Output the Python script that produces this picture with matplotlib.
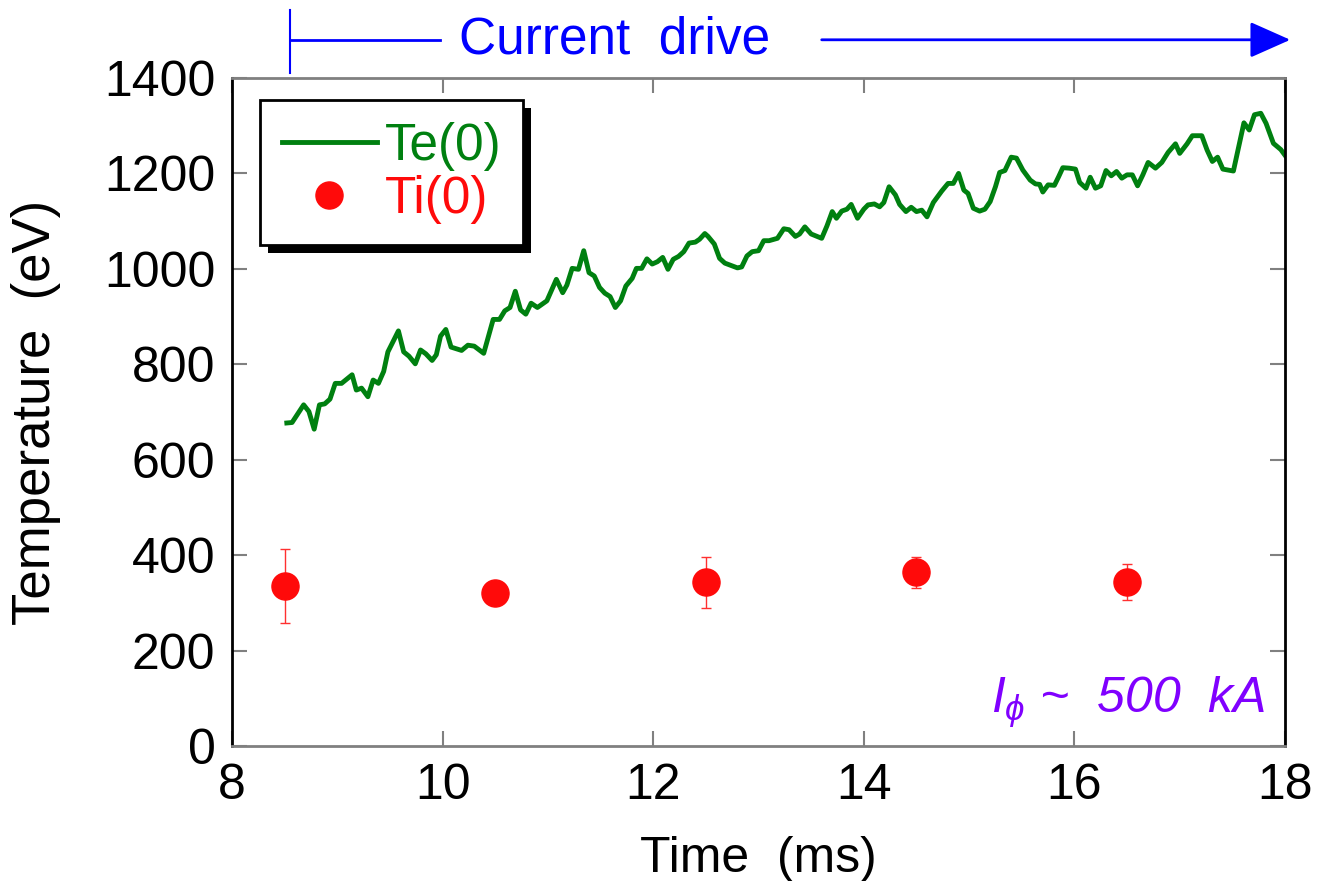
import numpy as np
import matplotlib.pyplot as plt
from matplotlib.patches import Rectangle
from matplotlib.transforms import IdentityTransform

plt.rcParams['font.family'] = ['Liberation Sans', 'DejaVu Sans']
plt.rcParams['mathtext.fontset'] = 'custom'
plt.rcParams['mathtext.it'] = 'Liberation Sans:italic'

# electron temperature trace Te(0)
te_time = [8.52, 8.57, 8.68, 8.73, 8.78, 8.83, 8.88, 8.93, 8.98, 9.04,
           9.14, 9.18, 9.23, 9.29, 9.34, 9.39, 9.44, 9.48, 9.58, 9.63,
           9.68, 9.74, 9.79, 9.84, 9.90, 9.94, 9.98, 10.03, 10.08, 10.18,
           10.24, 10.30, 10.39, 10.48, 10.54, 10.59, 10.64, 10.69, 10.74, 10.79,
           10.84, 10.90, 10.99, 11.08, 11.14, 11.18, 11.23, 11.29, 11.34, 11.39,
           11.44, 11.49, 11.54, 11.59, 11.64, 11.69, 11.74, 11.80, 11.84, 11.89,
           11.94, 11.99, 12.04, 12.09, 12.14, 12.19, 12.24, 12.29, 12.34, 12.40,
           12.44, 12.49, 12.52, 12.58, 12.63, 12.68, 12.74, 12.80, 12.84, 12.89,
           12.94, 13.00, 13.05, 13.10, 13.18, 13.24, 13.29, 13.35, 13.39, 13.44,
           13.50, 13.60, 13.65, 13.70, 13.74, 13.79, 13.84, 13.88, 13.94, 14.00,
           14.04, 14.10, 14.15, 14.19, 14.24, 14.30, 14.34, 14.40, 14.45, 14.50,
           14.55, 14.60, 14.66, 14.74, 14.80, 14.85, 14.90, 14.95, 14.99, 15.04,
           15.10, 15.15, 15.20, 15.25, 15.29, 15.34, 15.40, 15.45, 15.51, 15.58,
           15.63, 15.67, 15.70, 15.75, 15.81, 15.85, 15.89, 15.95, 16.01, 16.05,
           16.11, 16.15, 16.20, 16.25, 16.30, 16.35, 16.40, 16.45, 16.50, 16.55,
           16.60, 16.65, 16.70, 16.77, 16.83, 16.89, 16.96, 17.00, 17.07, 17.12,
           17.21, 17.26, 17.31, 17.36, 17.41, 17.51, 17.56, 17.61, 17.66, 17.71,
           17.77, 17.82, 17.89, 17.96, 18.00]
te_vals = [677, 678, 715, 701, 664, 715, 717, 727, 760, 760,
           778, 746, 750, 732, 767, 760, 785, 826, 870, 826,
           817, 801, 830, 822, 808, 820, 859, 873, 836, 829,
           840, 838, 823, 894, 894, 912, 919, 953, 914, 905,
           928, 919, 933, 978, 950, 966, 1001, 999, 1038, 992,
           985, 961, 949, 942, 919, 933, 964, 980, 1001, 1001,
           1021, 1010, 1015, 1024, 999, 1020, 1026, 1036, 1054, 1056,
           1062, 1074, 1068, 1052, 1022, 1012, 1007, 1002, 1004, 1027,
           1036, 1038, 1059, 1059, 1064, 1084, 1082, 1068, 1073, 1088,
           1073, 1064, 1090, 1120, 1106, 1121, 1125, 1135, 1106, 1125,
           1134, 1136, 1130, 1139, 1172, 1155, 1135, 1120, 1129, 1120,
           1123, 1109, 1139, 1163, 1179, 1179, 1200, 1165, 1158, 1127,
           1121, 1125, 1141, 1172, 1202, 1206, 1234, 1232, 1207, 1186,
           1178, 1177, 1161, 1176, 1175, 1193, 1212, 1211, 1209, 1181,
           1169, 1192, 1169, 1174, 1206, 1195, 1204, 1190, 1197, 1197,
           1174, 1197, 1223, 1211, 1223, 1244, 1262, 1242, 1262, 1279,
           1279, 1249, 1225, 1234, 1209, 1205, 1256, 1306, 1291, 1323,
           1326, 1305, 1263, 1250, 1238]

# ion temperature Ti(0) with error bars
ti_time = [8.5, 10.5, 12.5, 14.5, 16.5]
ti_vals = [335, 320, 343, 364, 343]
ti_err = [77, 0, 54, 32, 38]

fig = plt.figure(figsize=(13.17, 8.81), dpi=100)
ax = fig.add_axes([0.1762, 0.1532, 0.7995, 0.7583])

ax.plot(te_time, te_vals, color='#008010', lw=3.5, label='Te(0)')
ax.errorbar(ti_time, ti_vals, yerr=ti_err, fmt='none', ecolor='#ff3030',
            elinewidth=1, capsize=3.5, capthick=1)
ax.plot(ti_time, ti_vals, 'o', color='#ff0a0a', ms=19.5, label='Ti(0)')

ax.set_xlim(8, 18)
ax.set_ylim(0, 1400)
ax.set_xticks(np.arange(8, 19, 2))
ax.set_yticks(np.arange(0, 1401, 200))
ax.tick_params(direction='in', length=11, width=1.5, color='#808080',
               top=True, right=True, labelsize=36)
ax.tick_params(axis='x', pad=12)
ax.tick_params(axis='y', pad=12)
for s in ['left', 'right']:
    ax.spines[s].set_color('black')
    ax.spines[s].set_linewidth(2)
for s in ['top', 'bottom']:
    ax.spines[s].set_color('#808080')
    ax.spines[s].set_linewidth(2)

ax.set_xlabel('Time  (ms)', fontsize=36)
ax.set_ylabel('Temperature  (eV)', fontsize=38)
ax.xaxis.set_label_coords(0.5, -0.135)
ax.yaxis.set_label_coords(-0.162, 0.5)

# current drive marker above the plot
ax.plot([8.55, 8.55], [1411, 1543], color='blue', lw=1.5, clip_on=False)
ax.plot([8.55, 9.975], [1480, 1480], color='blue', lw=2, clip_on=False)
ax.annotate('', xy=(18.05, 1480), xytext=(13.6, 1480), annotation_clip=False,
            arrowprops=dict(arrowstyle='-|>,head_length=0.9,head_width=0.4',
                            color='blue', lw=2, mutation_scale=28,
                            shrinkA=0, shrinkB=0))
ax.text(11.63, 1480, 'Current  drive', color='blue', fontsize=37,
        ha='center', va='center')

ax.text(0.981, 0.065, r'$I_{\phi}$ ~  500  kA', transform=ax.transAxes,
        color='#8000ff', fontsize=36, style='italic', ha='right', va='center')

leg = ax.legend(loc='upper left', bbox_to_anchor=(0.0266, 0.967), borderaxespad=0,
                fontsize=37, fancybox=False, edgecolor='black', framealpha=1,
                handlelength=1.85, handletextpad=0.15, labelspacing=0.08,
                borderpad=0.42, markerscale=1.0)
leg.get_frame().set_linewidth(2)
for txt, c in zip(leg.get_texts(), ['#008010', '#ff0a0a']):
    txt.set_color(c)

# solid black drop shadow behind the legend box
fig.canvas.draw()
bb = leg.get_window_extent()
ax.add_patch(Rectangle((bb.x0 + 8, bb.y0 - 8), bb.width, bb.height,
                       transform=IdentityTransform(), facecolor='black',
                       edgecolor='none', zorder=4.9, clip_on=False))

fig.savefig('out.png', dpi=100)
